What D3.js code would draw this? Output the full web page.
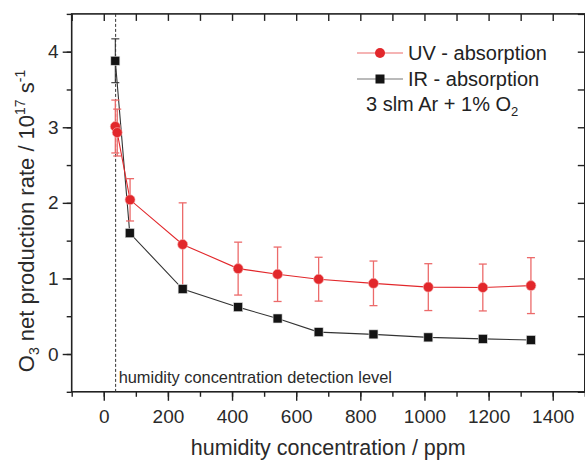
<!DOCTYPE html>
<html>
<head>
<meta charset="utf-8">
<script src="https://cdn.jsdelivr.net/npm/d3@7"></script>
<style>
  html, body { margin: 0; padding: 0; background: #fff; }
  svg { display: block; font-family: "Liberation Sans", Arial, sans-serif; }
</style>
</head>
<body>
<svg id="chart" width="585" height="460"></svg>
<script>
// ---- data ----
const uvX   = [36, 42, 82, 246, 419, 542, 670, 841, 1012, 1182, 1332];
const uvY   = [3.01, 2.93, 2.04, 1.45, 1.13, 1.055, 0.99, 0.935, 0.885, 0.88, 0.905];
const uvErr = [0.35, 0.31, 0.28, 0.55, 0.35, 0.36, 0.29, 0.295, 0.31, 0.31, 0.37];

const irX   = [36, 81, 246, 419, 542, 670, 841, 1012, 1182, 1332];
const irY   = [3.88, 1.60, 0.86, 0.62, 0.47, 0.29, 0.26, 0.22, 0.20, 0.185];
const irErr = [0.29, 0.05, 0.03, 0.03, 0.03, 0.03, 0.03, 0.03, 0.03, 0.03];

const detectionLevel = 37;
const xMajorTicks = [0, 200, 400, 600, 800, 1000, 1200, 1400];
const yMajorTicks = [0, 1, 2, 3, 4];
const seriesNames = ["UV - absorption", "IR - absorption"];

// ---- layout ----
const svg = d3.select("#chart");
const L = 71.7, R = 584.8, T = 13.9, B = 391.8;
const x = d3.scaleLinear().domain([-100, 1500]).range([L, R]);
const y = d3.scaleLinear().domain([-0.5, 4.5]).range([B, T]);

const red = "#e2272b", redLight = "#ec6a6a", black = "#141414", axisCol = "#222";

const xMinor = d3.range(-100, 1501, 100);
const yMinor = d3.range(-0.5, 4.51, 0.5);

function styleAxis(g) {
  g.select(".domain").remove();
  g.selectAll("line").attr("stroke", axisCol).attr("stroke-width", 1.4);
  g.selectAll("text").attr("fill", "#2a2a2a").attr("font-size", 19)
    .attr("font-family", "'Liberation Sans', Arial, sans-serif");
}

// bottom axis
svg.append("g").attr("transform", `translate(0,${B})`)
  .call(d3.axisBottom(x).tickValues(xMinor).tickSize(5).tickFormat(""))
  .call(styleAxis);
svg.append("g").attr("transform", `translate(0,${B})`)
  .call(d3.axisBottom(x).tickValues(xMajorTicks).tickSize(9).tickPadding(9).tickFormat(d3.format("d")))
  .call(styleAxis);
// top axis (inward)
svg.append("g").attr("transform", `translate(0,${T})`)
  .call(d3.axisTop(x).tickValues(xMinor).tickSize(-7).tickFormat(""))
  .call(styleAxis);
// left axis
svg.append("g").attr("transform", `translate(${L},0)`)
  .call(d3.axisLeft(y).tickValues(yMinor).tickSize(5).tickFormat(""))
  .call(styleAxis);
svg.append("g").attr("transform", `translate(${L},0)`)
  .call(d3.axisLeft(y).tickValues(yMajorTicks).tickSize(9).tickPadding(4).tickFormat(d3.format("d")))
  .call(styleAxis);
// right axis (inward)
svg.append("g").attr("transform", `translate(${R},0)`)
  .call(d3.axisRight(y).tickValues(yMinor).tickSize(-7).tickFormat(""))
  .call(styleAxis);

// frame
svg.append("rect").attr("x", L).attr("y", T).attr("width", R - L).attr("height", B - T)
  .attr("fill", "none").attr("stroke", axisCol).attr("stroke-width", 1.6);

// detection level dashed line
svg.append("line")
  .attr("x1", x(detectionLevel)).attr("x2", x(detectionLevel))
  .attr("y1", T).attr("y2", B)
  .attr("stroke", "#333").attr("stroke-width", 1).attr("stroke-dasharray", "3,2");
svg.append("text").attr("x", x(detectionLevel) + 3).attr("y", 383)
  .attr("font-size", 16.4).attr("fill", "#2a2a2a").text("humidity concentration detection level");

// ---- series ----
const uv = uvX.map((d, i) => ({ x: d, y: uvY[i], e: uvErr[i] }));
const ir = irX.map((d, i) => ({ x: d, y: irY[i], e: irErr[i] }));
const line = d3.line().x(d => x(d.x)).y(d => y(d.y));
const cap = 4;

// IR line + error bars
svg.append("path").datum(ir).attr("d", line).attr("fill", "none")
  .attr("stroke", "#333").attr("stroke-width", 1.1);
const irE = svg.append("g").attr("stroke", "#333").attr("stroke-width", 1.1);
irE.selectAll("line.v").data(ir).join("line")
  .attr("x1", d => x(d.x)).attr("x2", d => x(d.x))
  .attr("y1", d => y(d.y - d.e)).attr("y2", d => y(d.y + d.e));
irE.selectAll("line.t").data(ir).join("line")
  .attr("x1", d => x(d.x) - cap).attr("x2", d => x(d.x) + cap)
  .attr("y1", d => y(d.y + d.e)).attr("y2", d => y(d.y + d.e));
irE.selectAll("line.b").data(ir).join("line")
  .attr("x1", d => x(d.x) - cap).attr("x2", d => x(d.x) + cap)
  .attr("y1", d => y(d.y - d.e)).attr("y2", d => y(d.y - d.e));

// UV line + error bars
svg.append("path").datum(uv).attr("d", line).attr("fill", "none")
  .attr("stroke", red).attr("stroke-width", 1.1);
const uvE = svg.append("g").attr("stroke", redLight).attr("stroke-width", 1.3);
uvE.selectAll("line.v").data(uv).join("line")
  .attr("x1", d => x(d.x)).attr("x2", d => x(d.x))
  .attr("y1", d => y(d.y - d.e)).attr("y2", d => y(d.y + d.e));
uvE.selectAll("line.t").data(uv).join("line")
  .attr("x1", d => x(d.x) - cap).attr("x2", d => x(d.x) + cap)
  .attr("y1", d => y(d.y + d.e)).attr("y2", d => y(d.y + d.e));
uvE.selectAll("line.b").data(uv).join("line")
  .attr("x1", d => x(d.x) - cap).attr("x2", d => x(d.x) + cap)
  .attr("y1", d => y(d.y - d.e)).attr("y2", d => y(d.y - d.e));

// markers
const sq = 9;
svg.append("g").selectAll("rect").data(ir).join("rect")
  .attr("x", d => x(d.x) - sq / 2).attr("y", d => y(d.y) - sq / 2)
  .attr("width", sq).attr("height", sq)
  .attr("fill", black).attr("stroke", "#ddd").attr("stroke-width", 0.6);
svg.append("g").selectAll("circle").data(uv).join("circle")
  .attr("cx", d => x(d.x)).attr("cy", d => y(d.y)).attr("r", 5)
  .attr("fill", red).attr("stroke", "#f3b0b0").attr("stroke-width", 0.6);

// ---- legend ----
const lg = svg.append("g");
lg.append("line").attr("x1", 357).attr("x2", 403).attr("y1", 53).attr("y2", 53)
  .attr("stroke", redLight).attr("stroke-width", 1.2);
lg.append("circle").attr("cx", 380).attr("cy", 53).attr("r", 5).attr("fill", red);
lg.append("text").attr("x", 408).attr("y", 60).attr("font-size", 20).attr("fill", "#222").text(seriesNames[0]);
lg.append("line").attr("x1", 357).attr("x2", 403).attr("y1", 79).attr("y2", 79)
  .attr("stroke", "#777").attr("stroke-width", 1.2);
lg.append("rect").attr("x", 380 - 4.5).attr("y", 79 - 4.5).attr("width", 9).attr("height", 9).attr("fill", black);
lg.append("text").attr("x", 408).attr("y", 86).attr("font-size", 20).attr("fill", "#222").text(seriesNames[1]);
const cond = lg.append("text").attr("x", 366).attr("y", 111).attr("font-size", 20).attr("fill", "#222");
cond.append("tspan").text("3 slm Ar + 1% O");
cond.append("tspan").attr("font-size", 13).attr("dy", 5).text("2");

// ---- axis titles ----
svg.append("text").attr("x", (L + R) / 2).attr("y", 455).attr("text-anchor", "middle")
  .attr("font-size", 21.5).attr("fill", "#2a2a2a").text("humidity concentration / ppm");

const yt = svg.append("text").attr("transform", "translate(33.5,221) rotate(-90)")
  .attr("text-anchor", "middle").attr("font-size", 22).attr("fill", "#2a2a2a");
yt.append("tspan").text("O");
yt.append("tspan").attr("font-size", 14).attr("dy", 5).text("3");
yt.append("tspan").attr("dy", -5).text(" net production rate / 10");
yt.append("tspan").attr("font-size", 14).attr("dy", -9).text("17");
yt.append("tspan").attr("dy", 9).text(" s");
yt.append("tspan").attr("font-size", 14).attr("dy", -9).text("-1");
</script>
</body>
</html>
